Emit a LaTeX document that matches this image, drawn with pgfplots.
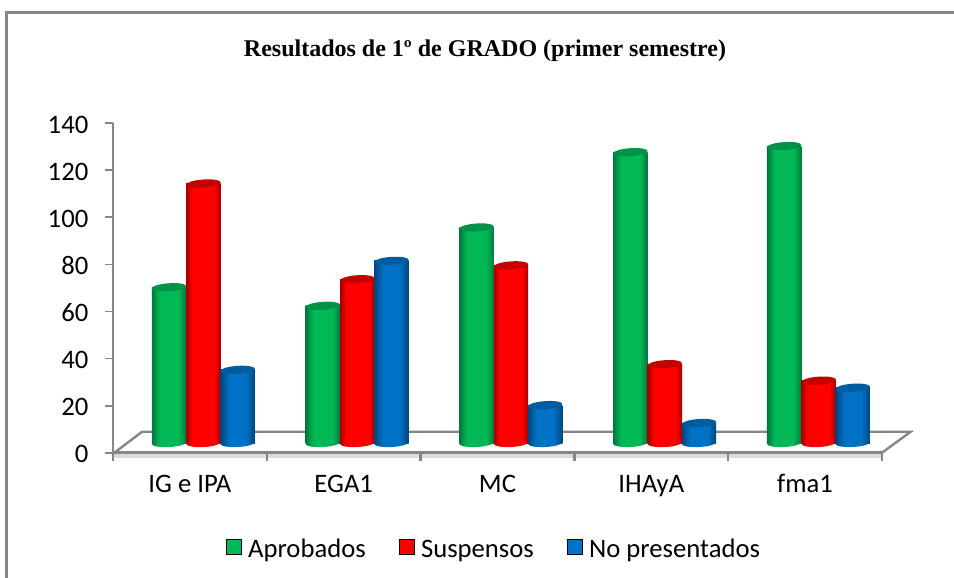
\documentclass[border=0pt]{standalone}
\usepackage{fontspec}
\setmainfont{Carlito}
\newfontfamily\titlefont{Liberation Serif}
\usepackage{pgfplots}
\pgfplotsset{compat=1.18}
\definecolor{axgray}{RGB}{134,134,134}
\definecolor{gA}{RGB}{0,120,60}\definecolor{gB}{RGB}{0,184,86}
\definecolor{rA}{RGB}{165,0,0}\definecolor{rB}{RGB}{255,0,0}
\definecolor{bA}{RGB}{0,70,125}\definecolor{bB}{RGB}{0,114,198}
\definecolor{gT}{RGB}{0,146,70}\definecolor{rT}{RGB}{196,0,0}\definecolor{bT}{RGB}{0,92,160}
\pgfdeclarehorizontalshading{gcyl}{100bp}{color(0bp)=(gA);color(25bp)=(gA);color(36bp)=(gB);color(64bp)=(gB);color(75bp)=(gA);color(100bp)=(gA)}
\pgfdeclarehorizontalshading{rcyl}{100bp}{color(0bp)=(rA);color(25bp)=(rA);color(34bp)=(rB);color(66bp)=(rB);color(75bp)=(rA);color(100bp)=(rA)}
\pgfdeclarehorizontalshading{bcyl}{100bp}{color(0bp)=(bA);color(25bp)=(bA);color(38bp)=(bB);color(62bp)=(bB);color(75bp)=(bA);color(100bp)=(bA)}
\pgfdeclareplotmark{cyltop}{\pgftransformrotate{4}\pgfpathellipse{\pgfpointorigin}{\pgfpoint{12.9pt}{0pt}}{\pgfpoint{0pt}{3pt}}\pgfusepathqfill}
\pgfdeclareplotmark{botg}{\pgftransformrotate{3}\pgfpathellipse{\pgfpointorigin}{\pgfpoint{12.9pt}{0pt}}{\pgfpoint{0pt}{3pt}}\pgfshadepath{gcyl}{0}\pgfusepath{discard}}
\pgfdeclareplotmark{botr}{\pgftransformrotate{3}\pgfpathellipse{\pgfpointorigin}{\pgfpoint{12.9pt}{0pt}}{\pgfpoint{0pt}{3pt}}\pgfshadepath{rcyl}{0}\pgfusepath{discard}}
\pgfdeclareplotmark{botb}{\pgftransformrotate{3}\pgfpathellipse{\pgfpointorigin}{\pgfpoint{12.9pt}{0pt}}{\pgfpoint{0pt}{3pt}}\pgfshadepath{bcyl}{0}\pgfusepath{discard}}
% one cylinder: shading name, bottom mark, top colour, x, value
\newcommand{\cyl}[5]{%
  \addplot[only marks,mark=#2,forget plot] coordinates {(#4,0)};
  \addplot[ybar,bar width=0.2237,bar shift=0pt,draw=none,shade,shading=#1,shading angle=0,forget plot] coordinates {(#4,#5)};
  \addplot[only marks,mark=cyltop,#3,mark options={fill=#3,draw=none},forget plot] coordinates {(#4,#5)};
}
\begin{document}
\begin{tikzpicture}
\useasboundingbox (-84.75pt,-93.98pt) rectangle (630.75pt,339.5pt);
\draw[axgray,line width=1.9pt] (-79.9pt,-93.98pt) -- (-79.9pt,330.15pt) -- (630.75pt,330.15pt);
\node[anchor=base,font=\titlefont\bfseries\fontsize{18}{21}\selectfont,inner sep=0pt] at (279pt,297pt) {Resultados de 1º de GRADO (primer semestre)};
\begin{axis}[
  scale only axis, width=576.75pt, height=247.05pt,
  xmin=-0.5, xmax=4.5, ymin=0, ymax=140,
  axis lines=left, axis line style={-,axgray,line width=2.2pt},
  clip=false,
  xtick={0,1,2,3,4},
  xticklabels={IG e IPA,EGA1,MC,IHAyA,fma1},
  ytick={0,20,...,140},
  tick align=outside,
  major tick length=6pt,
  every major tick/.style={axgray,line width=1.4pt},
  major x tick style={draw=none},
  tick label style={font=\fontsize{20}{24}\selectfont},
  /pgf/number format/assume math mode=true,
  yticklabel style={xshift=-9pt,yshift=-1pt},
  xticklabel style={anchor=base,yshift=-24pt},
]
\addplot[line width=2.4pt,gray!28,forget plot] coordinates {(-0.5,-1.4) (4.5,-1.4)};
\addplot[line width=1.8pt,axgray,forget plot] coordinates {(-0.49,0) (-0.311,8.9) (4.687,8.9) (4.5,0)};
\addplot[ycomb,no marks,line width=1.9pt,axgray,forget plot] coordinates {(-0.5,-3.4) (0.5,-3.4) (1.5,-3.4) (2.5,-3.4) (3.5,-3.4) (4.5,-3.4)};
\end{axis}
\begin{axis}[
  scale only axis, width=576.75pt, height=247.05pt,
  xmin=-0.5, xmax=4.5, ymin=-4.1, ymax=135.9,
  hide axis, clip=false,
  legend columns=3,
  legend image code/.code={\fill[#1] (0pt,-5.6pt) rectangle (11pt,5.6pt);},
  legend style={at={(axis description cs:0.147,-0.287)},anchor=west,draw=none,fill=none,
    font=\fontsize{20}{24}\selectfont, inner xsep=0pt, inner ysep=0pt,
    /tikz/every even column/.append style={column sep=23pt},
    /tikz/every odd column/.append style={column sep=3pt}},
]
\addlegendimage{fill=gB}\addlegendentry{Aprobados\strut}
\addlegendimage{fill=rB}\addlegendentry{Suspensos\strut}
\addlegendimage{fill=bB}\addlegendentry{No presentados\strut}
% Aprobados
\cyl{gcyl}{botg}{gT}{-0.136}{66.2}
\cyl{gcyl}{botg}{gT}{0.864}{58.3}
\cyl{gcyl}{botg}{gT}{1.864}{91.6}
\cyl{gcyl}{botg}{gT}{2.864}{123.6}
\cyl{gcyl}{botg}{gT}{3.864}{126.2}
% Suspensos
\cyl{rcyl}{botr}{rT}{0.088}{110.3}
\cyl{rcyl}{botr}{rT}{1.088}{69.6}
\cyl{rcyl}{botr}{rT}{2.088}{75.5}
\cyl{rcyl}{botr}{rT}{3.088}{33.5}
\cyl{rcyl}{botr}{rT}{4.088}{26.5}
% No presentados
\cyl{bcyl}{botb}{bT}{0.31}{31.1}
\cyl{bcyl}{botb}{bT}{1.31}{77.4}
\cyl{bcyl}{botb}{bT}{2.31}{16.1}
\cyl{bcyl}{botb}{bT}{3.31}{8.5}
\cyl{bcyl}{botb}{bT}{4.31}{23.5}
\end{axis}
\end{tikzpicture}
\end{document}
